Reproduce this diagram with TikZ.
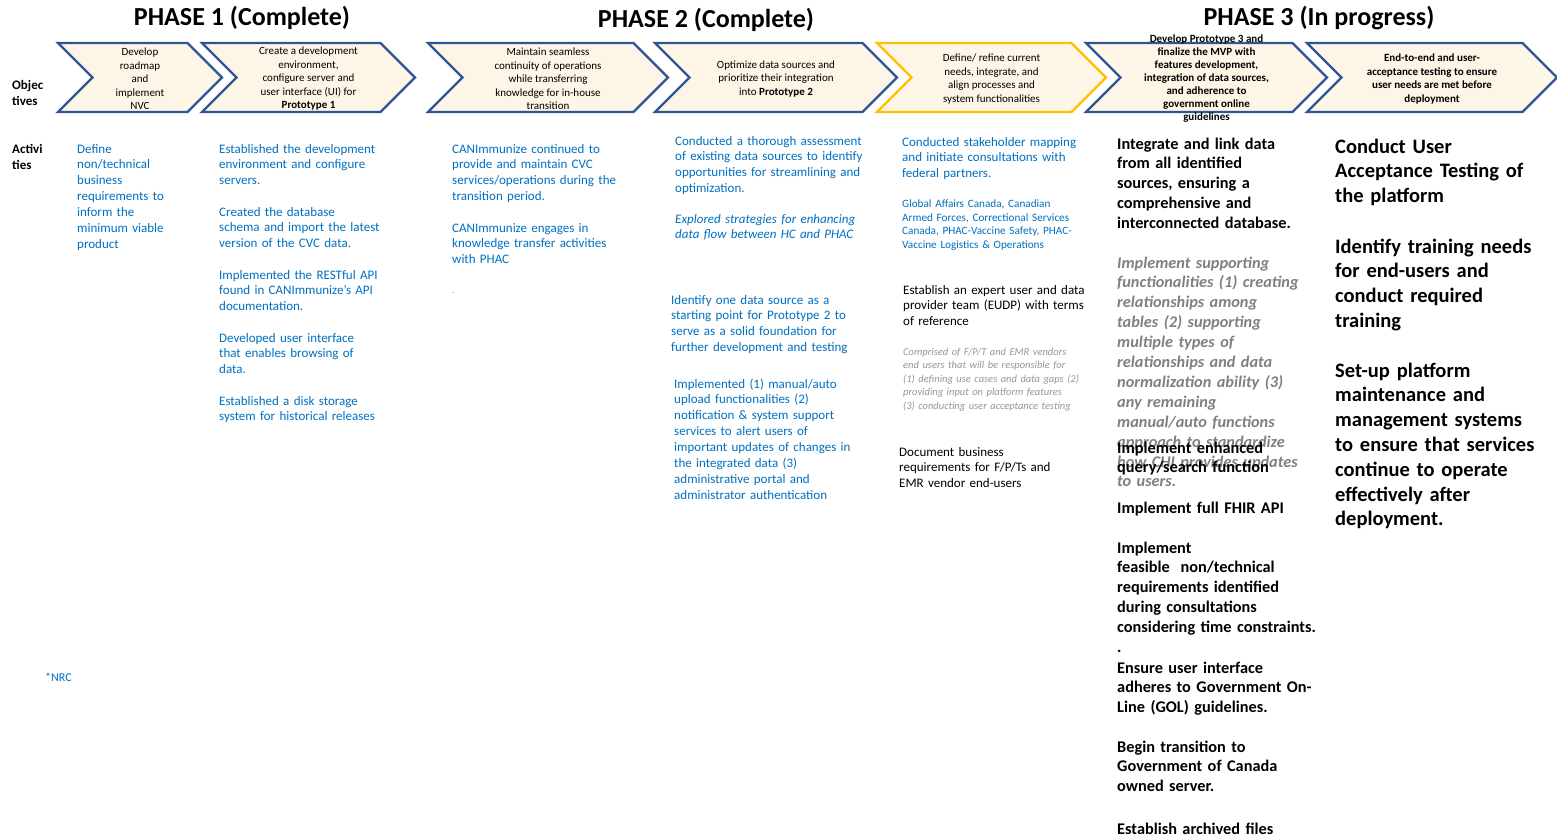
\documentclass[tikz,border=0pt]{standalone}
\usepackage{fontspec}
\setmainfont{Carlito}
\usepackage{xcolor}
\usetikzlibrary{shapes.symbols}

\definecolor{chevblue}{RGB}{47,85,151}
\definecolor{chevgold}{RGB}{255,192,0}
\definecolor{chevfill}{RGB}{253,246,230}
\definecolor{actblue}{RGB}{0,112,192}
\definecolor{notegray}{RGB}{128,128,128}
\definecolor{subgray}{RGB}{150,150,150}

\tikzset{
  chevron/.style={signal, signal from=west, signal to=east, signal pointer angle=90,
    minimum height=69pt, inner sep=0pt, draw=chevblue, fill=chevfill, line width=2.2pt},
  objtxt/.style={align=center, inner sep=0pt, yshift=-1.5pt, font=\fontsize{11}{13.5}\selectfont},
  phase/.style={font=\bfseries\fontsize{26}{31}\selectfont},
  rowlbl/.style={anchor=base west, align=left, text width=40pt, inner sep=0pt,
    font=\bfseries\fontsize{13}{16}\selectfont},
  act/.style={anchor=base west, align=left, text width=230pt, inner sep=0pt,
    text=actblue, font=\fontsize{13}{15.9}\selectfont},
  plan/.style={anchor=base west, align=left, text width=230pt, inner sep=0pt,
    font=\bfseries\fontsize{16.3}{19.9}\selectfont},
  nextplan/.style={anchor=base west, align=left, text width=230pt, inner sep=0pt,
    font=\bfseries\fontsize{20.5}{24.8}\selectfont}
}

\begin{document}
\begin{tikzpicture}[x=1pt,y=-1pt]
\fill[white] (0,0) rectangle (1557,835);
\useasboundingbox (0,0) rectangle (1557,835);

% phase titles
\node[phase] (p1) at (242,18) {PHASE 1 (Complete)};
\node[phase] (p2) at (706,20) {PHASE 2 (Complete)};
\node[phase] (p3) at (1319,18) {PHASE 3 (In progress)};

% objectives
\node[rowlbl] (obj) at (12,89) {Objec\\tives};
\node[chevron, minimum width=164pt] (c1) at (140,77.5) {};
\node[chevron, minimum width=213pt] (c2) at (308.5,77.5) {};
\node[chevron, minimum width=240pt] (c3) at (548,77.5) {};
\node[chevron, minimum width=242pt] (c4) at (776,77.5) {};
\node[chevron, minimum width=229pt, draw=chevgold] (c5) at (991.5,77.5) {};
\node[chevron, minimum width=241pt] (c6) at (1206.5,77.5) {};
\node[chevron, minimum width=250pt] (c7) at (1432,77.5) {};

\node[objtxt] (o1) at (c1.center) {Develop\\roadmap\\and\\implement\\NVC};
\node[objtxt] (o2) at (c2.center) {Create a development\\environment,\\configure server and\\user interface (UI) for\\\textbf{Prototype 1}};
\node[objtxt] (o3) at (c3.center) {Maintain seamless\\continuity of operations\\while transferring\\knowledge for in-house\\transition};
\node[objtxt] (o4) at (c4.center) {Optimize data sources and\\prioritize their integration\\into \textbf{Prototype 2}};
\node[objtxt] (o5) at (c5.center) {Define/ refine current\\needs, integrate, and\\align processes and\\system functionalities};
\node[objtxt, font=\bfseries\fontsize{11}{13}\selectfont] (o6) at (c6.center) {Develop Prototype 3 and\\finalize the MVP with\\features development,\\integration of data sources,\\and adherence to\\government online\\guidelines};
\node[objtxt, font=\bfseries\fontsize{11}{13.5}\selectfont] (o7) at (c7.center) {End-to-end and user-\\acceptance testing to ensure\\user needs are met before\\deployment};

% activities
\node[rowlbl] (actv) at (12,153) {Activi\\ties};

% phase 1
\node[act] (a1) at (77,153) {Define\\non/technical\\business\\requirements to\\inform the\\minimum viable\\product};
\node[act] (a2a) at (219,153) {Established the development\\environment and configure\\servers.};
\node[act] (a2b) at (219,216) {Created the database\\schema and import the latest\\version of the CVC data.};
\node[act] (a2c) at (219,279) {Implemented the RESTful API\\found in CANImmunize’s API\\documentation.};
\node[act] (a2d) at (219,342) {Developed user interface\\that enables browsing of\\data.};
\node[act] (a2e) at (219,405) {Established a disk storage\\system for historical releases};

% phase 2
\node[act] (a3a) at (452,153) {CANImmunize continued to\\provide and maintain CVC\\services/operations during the\\transition period.};
\node[act] (a3b) at (452,232) {CANImmunize engages in\\knowledge transfer activities\\with PHAC};
\node[act, font=\fontsize{8}{10}\selectfont] (a3c) at (452,293) {.};
\node[act] (a4a) at (675,145) {Conducted a thorough assessment\\of existing data sources to identify\\opportunities for streamlining and\\optimization.};
\node[act, font=\itshape\fontsize{13}{15.9}\selectfont] (a4b) at (675,223) {Explored strategies for enhancing\\data flow between HC and PHAC};
\node[act] (a4c) at (671,304) {Identify one data source as a\\starting point for Prototype 2 to\\serve as a solid foundation for\\further development and testing};
\node[act] (a4d) at (674,388) {Implemented (1) manual/auto\\upload functionalities (2)\\notification \& system support\\services to alert users of\\important updates of changes in\\the integrated data (3)\\administrative portal and\\administrator authentication};

% phase 2/3 bridge
\node[act] (a5a) at (902,146) {Conducted stakeholder mapping\\and initiate consultations with\\federal partners.};
\node[act, font=\fontsize{11.2}{13.7}\selectfont] (a5b) at (902,207.5) {Global Affairs Canada, Canadian\\Armed Forces, Correctional Services\\Canada, PHAC-Vaccine Safety, PHAC-\\Vaccine Logistics \& Operations};
\node[act, text=black] (a5c) at (903,294) {Establish an expert user and data\\provider team (EUDP) with terms\\of reference};
\node[act, text=subgray, font=\itshape\fontsize{10.5}{13.5}\selectfont] (a5d) at (903,355) {Comprised of F/P/T and EMR vendors\\end users that will be responsible for\\(1) defining use cases and data gaps (2)\\providing input on platform features\\(3) conducting user acceptance testing};
\node[act, text=black] (a5e) at (899,456) {Document business\\requirements for F/P/Ts and\\EMR vendor end-users};

% phase 3
\node[plan] (a6a) at (1117,149) {Integrate and link data\\from all identified\\sources, ensuring a\\comprehensive and\\interconnected database.};
\node[plan, text=notegray, font=\bfseries\itshape\fontsize{16.3}{19.9}\selectfont] (a6b) at (1117,268) {Implement supporting\\functionalities (1) creating\\relationships among\\tables (2) supporting\\multiple types of\\relationships and data\\normalization ability (3)\\any remaining\\manual/auto functions\\approach to standardize\\how CHI provides updates\\to users.};
\node[plan] (a6c) at (1117,453) {Implement enhanced\\query/search function};
\node[plan] (a6d) at (1117,513) {Implement full FHIR API};
\node[plan] (a6e) at (1117,553) {Implement\\feasible~ non/technical\\requirements identified\\during consultations\\considering time constraints.\\.};
\node[plan] (a6f) at (1117,673) {Ensure user interface\\adheres to Government On-\\Line (GOL) guidelines.};
\node[plan] (a6g) at (1117,752) {Begin transition to\\Government of Canada\\owned server.};
\node[plan] (a6h) at (1117,834) {Establish archived files};

\node[nextplan] (a7a) at (1335,153) {Conduct User\\Acceptance Testing of\\the platform};
\node[nextplan] (a7b) at (1335,253) {Identify training needs\\for end-users and\\conduct required\\training};
\node[nextplan] (a7c) at (1335,377) {Set-up platform\\maintenance and\\management systems\\to ensure that services\\continue to operate\\effectively after\\deployment.};

\node[act, font=\fontsize{12}{15}\selectfont] (nrc) at (45,681) {*NRC};
\end{tikzpicture}
\end{document}
